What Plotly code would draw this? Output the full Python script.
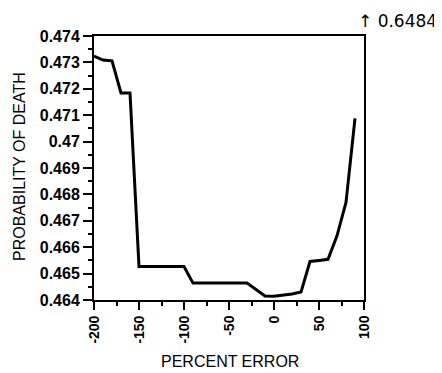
import plotly.graph_objects as go

percent_error = [-200, -190, -180, -170, -160, -150, -140, -130, -120, -110, -100,
                 -90, -80, -70, -60, -50, -40, -30, -20, -10, 0, 10, 20, 30,
                 40, 50, 60, 70, 80, 90]
prob_death = [0.47324, 0.47309, 0.47306, 0.47184, 0.47184, 0.46527, 0.46527, 0.46527,
              0.46527, 0.46527, 0.46527, 0.46464, 0.46464, 0.46464, 0.46464, 0.46464,
              0.46464, 0.46464, 0.46440, 0.46415, 0.46414, 0.46418, 0.46423, 0.46430,
              0.46546, 0.46550, 0.46554, 0.46643, 0.46770, 0.47088]

y_tick_vals = [0.464, 0.465, 0.466, 0.467, 0.468, 0.469, 0.470, 0.471, 0.472, 0.473, 0.474]
y_tick_text = ["0.464", "0.465", "0.466", "0.467", "0.468", "0.469", "0.47",
               "0.471", "0.472", "0.473", "0.474"]
x_tick_vals = [-200, -150, -100, -50, 0, 50, 100]
x_tick_text = ["-200", "-150", "-100", "-50", "0", "50", "100"]
off_chart_note = "\u2191 0.6484"

fig = go.Figure()
fig.add_trace(go.Scatter(x=percent_error, y=prob_death, mode="lines",
                         line=dict(color="black", width=3), showlegend=False,
                         cliponaxis=False))

# page body has an 8px margin; shift everything accordingly
OFF = 8
W, H = 442 - OFF, 373 - OFF
L, T = 94 - OFF, 36 - OFF
R = W - (364 - OFF)
B = H - (300 - OFF)
pw, ph = W - L - R, H - T - B

def px_x(x):
    return (x - OFF - L) / pw

def px_y(y):
    return (H - B - (y - OFF)) / ph

fig.update_layout(
    width=W, height=H,
    margin=dict(l=L, r=R, t=T, b=B),
    paper_bgcolor="white", plot_bgcolor="white",
    font=dict(family="Liberation Sans, Arial, sans-serif", color="black"),
)
fig.update_xaxes(
    range=[-200, 100], showgrid=False, zeroline=False,
    showline=True, linecolor="black", linewidth=2, mirror=True,
    ticks="outside", ticklen=8, tickwidth=2, tickcolor="black",
    tickvals=x_tick_vals, ticktext=x_tick_text, tickangle=-90,
    tickfont=dict(size=14, weight="bold"),
    minor=dict(ticks="outside", ticklen=4, tickwidth=2, tickcolor="black", dtick=25, tick0=-200, showgrid=False),
)
fig.update_yaxes(
    range=[0.464, 0.474], showgrid=False, zeroline=False,
    showline=True, linecolor="black", linewidth=2, mirror=True,
    ticks="outside", ticklen=9, tickwidth=2, tickcolor="black",
    tickvals=y_tick_vals, ticktext=y_tick_text,
    tickfont=dict(size=16, weight="bold"),
    minor=dict(ticks="outside", ticklen=4, tickwidth=2, tickcolor="black", dtick=0.0005, tick0=0.464, showgrid=False),
)
fig.add_annotation(text="PROBABILITY OF DEATH", textangle=-90, showarrow=False,
                   xref="paper", yref="paper", x=px_x(19), y=px_y(167),
                   xanchor="center", yanchor="middle", font=dict(size=16))
fig.add_annotation(text="PERCENT ERROR", showarrow=False,
                   xref="paper", yref="paper", x=px_x(230), y=px_y(361),
                   xanchor="center", yanchor="middle", font=dict(size=16))
fig.add_annotation(text=off_chart_note, showarrow=False,
                   xref="paper", yref="paper", x=px_x(439), y=px_y(21),
                   xanchor="right", yanchor="middle",
                   font=dict(size=17, family="DejaVu Sans, sans-serif"))

fig.write_html("out.html")
